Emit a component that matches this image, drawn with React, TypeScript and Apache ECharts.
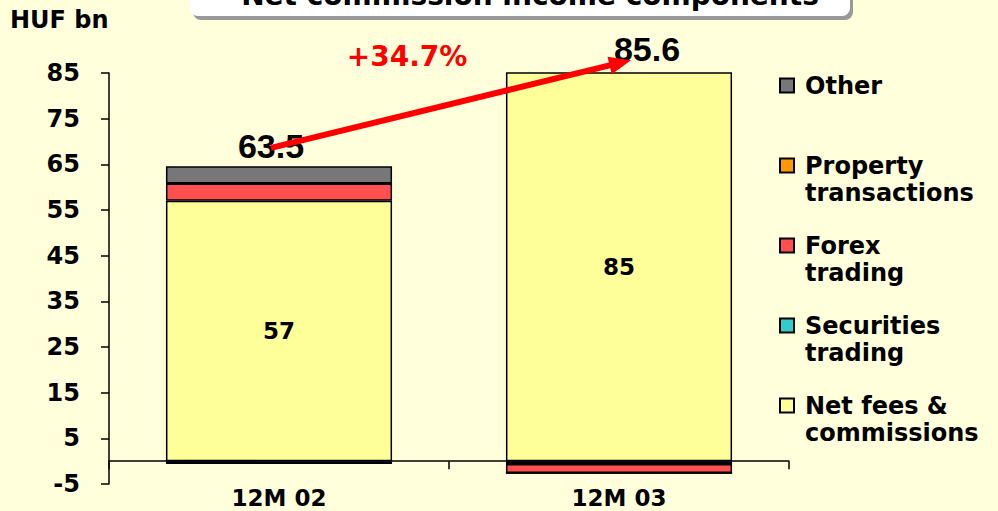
import React, { useEffect, useRef } from "react";
import * as echarts from "echarts";

const categories = ["12M 02", "12M 03"];
const netFees = [57, 85.2];
const securities = [-0.6, -0.6];
const forex = [3.8, -2.0];
const property = [0, 0];
const other = [3.8, 0];
const totals = [63.5, 85.6];
const growthLabel = "+34.7%";
const arrowFrom = 68.6;
const arrowTo = 87.8;
const yMin = -5;
const yMax = 85;
const yStep = 10;
const unitLabel = "HUF bn";
const titleText = "Net commission income components";

const legendNames = ["Other", "Property transactions", "Forex trading", "Securities trading", "Net fees & commissions"];
const legendLines: Record<string, string> = {
  "Other": "\nOther\n ",
  "Property transactions": "\nProperty\ntransactions",
  "Forex trading": "\nForex\ntrading",
  "Securities trading": "\nSecurities\ntrading",
  "Net fees & commissions": "\nNet fees &\ncommissions",
};

const FONT = "DejaVu Sans";

export default function App() {
  const ref = useRef<HTMLDivElement>(null);
  useEffect(() => {
    if (!ref.current) return;
    const chart = echarts.init(ref.current, null, { renderer: "svg" });
    const border = { borderColor: "#000", borderWidth: 1.5 };
    const barBase = { type: "bar", stack: "total", barWidth: "66.5%" };
    chart.setOption({
      animation: false,
      backgroundColor: "#FFFFDC",
      textStyle: { fontFamily: FONT },
      grid: { left: 109, right: 209, top: 73, bottom: 27, outerBoundsMode: "none", containLabel: false },
      xAxis: {
        type: "category",
        data: categories,
        axisLine: { onZero: true, lineStyle: { color: "#000", width: 1.5 } },
        axisTick: { show: true, length: 8, lineStyle: { color: "#000", width: 1.5 } },
        axisLabel: { margin: 2, color: "#000", fontFamily: FONT, fontWeight: "bold", fontSize: 23 },
      },
      yAxis: {
        type: "value",
        min: yMin,
        max: yMax,
        interval: yStep,
        splitLine: { show: false },
        axisLine: { show: true, lineStyle: { color: "#000", width: 1.5 } },
        axisTick: { show: true, length: 8, lineStyle: { color: "#000", width: 1.5 } },
        axisLabel: { margin: 29, color: "#000", fontFamily: FONT, fontWeight: "bold", fontSize: 24 },
      },
      legend: {
        orient: "vertical",
        left: 779,
        top: 45,
        padding: 0,
        itemGap: -1,
        itemWidth: 14,
        itemHeight: 14,
        icon: "rect",
        data: legendNames,
        formatter: (n: string) => legendLines[n] || n,
        textStyle: {
          fontFamily: FONT,
          fontWeight: "bold",
          fontSize: 24,
          lineHeight: 27,
          color: "#000",
          padding: [0, 0, 0, 6],
        },
      },
      series: [
        {
          ...barBase,
          name: "Net fees & commissions",
          data: netFees,
          itemStyle: { color: "#FFFF99", ...border },
          label: {
            show: true,
            position: "inside",
            color: "#000",
            fontFamily: FONT,
            fontWeight: "bold",
            fontSize: 23,
            formatter: (p: any) => String(Math.round(p.value)),
          },
        },
        { ...barBase, name: "Securities trading", data: securities, itemStyle: { color: "#33CCCC", ...border } },
        { ...barBase, name: "Forex trading", data: forex, itemStyle: { color: "#FF4F4F", ...border } },
        { ...barBase, name: "Property transactions", data: property, itemStyle: { color: "#FF9900", ...border } },
        { ...barBase, name: "Other", data: other, itemStyle: { color: "#777777", ...border } },
        {
          type: "custom",
          name: "Growth",
          silent: true,
          clip: false,
          z: 6,
          encode: { x: [0, 2], y: [1, 3] },
          data: [[0, arrowFrom, 1, arrowTo]],
          renderItem: (params: any, api: any) => {
            const p1 = api.coord([api.value(0), api.value(1)]);
            const p2 = api.coord([api.value(2), api.value(3)]);
            const x1 = p1[0] - 8, y1 = p1[1];
            const x2 = p2[0] + 12, y2 = p2[1];
            const dx = x2 - x1, dy = y2 - y1;
            const len = Math.sqrt(dx * dx + dy * dy);
            const ux = dx / len, uy = dy / len;
            const nx = -uy, ny = ux;
            const headLen = 22, headHalf = 9;
            const bx = x2 - ux * headLen, by = y2 - uy * headLen;
            return {
              type: "group",
              children: [
                {
                  type: "line",
                  shape: { x1, y1, x2: bx + ux * 2, y2: by + uy * 2 },
                  style: { stroke: "#FF0000", lineWidth: 6 },
                },
                {
                  type: "polygon",
                  shape: {
                    points: [
                      [x2, y2],
                      [bx + nx * headHalf, by + ny * headHalf],
                      [bx - nx * headHalf, by - ny * headHalf],
                    ],
                  },
                  style: { fill: "#FF0000" },
                },
              ],
            };
          },
        },
        {
          type: "scatter",
          name: "Total",
          symbolSize: 0,
          silent: true,
          clip: false,
          itemStyle: { color: "#000", opacity: 1 },
          data: [
            { value: [categories[0], totals[0]], label: { offset: [-8, -25] } },
            { value: [categories[1], totals[1]], label: { offset: [28, -21] } },
          ],
          label: {
            show: true,
            position: "inside",
            color: "#000",
            opacity: 1,
            textBorderWidth: 0,
            textBorderColor: "transparent",
            fontFamily: "Liberation Sans",
            fontWeight: "bold",
            fontSize: 34,
            formatter: (p: any) => String(p.value[1]),
          },
          z: 5,
        },
      ],
      graphic: [
        { type: "rect", shape: { x: 193, y: -12, width: 660, height: 32, r: 8 }, style: { fill: "#999999" }, z: 10 },
        { type: "rect", shape: { x: 190, y: -15, width: 660, height: 31, r: 8 }, style: { fill: "#FFFFFF" }, z: 11 },
        {
          type: "text",
          x: 530,
          y: -5,
          z: 12,
          style: { text: titleText, fill: "#000", font: `bold 28px "${FONT}"`, align: "center", verticalAlign: "middle" },
        },
        {
          type: "text",
          x: 10,
          y: 20,
          style: { text: unitLabel, fill: "#000", font: `bold 24px "${FONT}"`, align: "left", verticalAlign: "middle" },
        },
        {
          type: "text",
          x: 407,
          y: 56,
          style: { text: growthLabel, fill: "#FF0000", font: `bold 28px "${FONT}"`, align: "center", verticalAlign: "middle" },
        },
      ],
    });
    return () => chart.dispose();
  }, []);
  return <div ref={ref} style={{ position: "fixed", left: 0, top: 0, width: 998, height: 511 }} />;
}
